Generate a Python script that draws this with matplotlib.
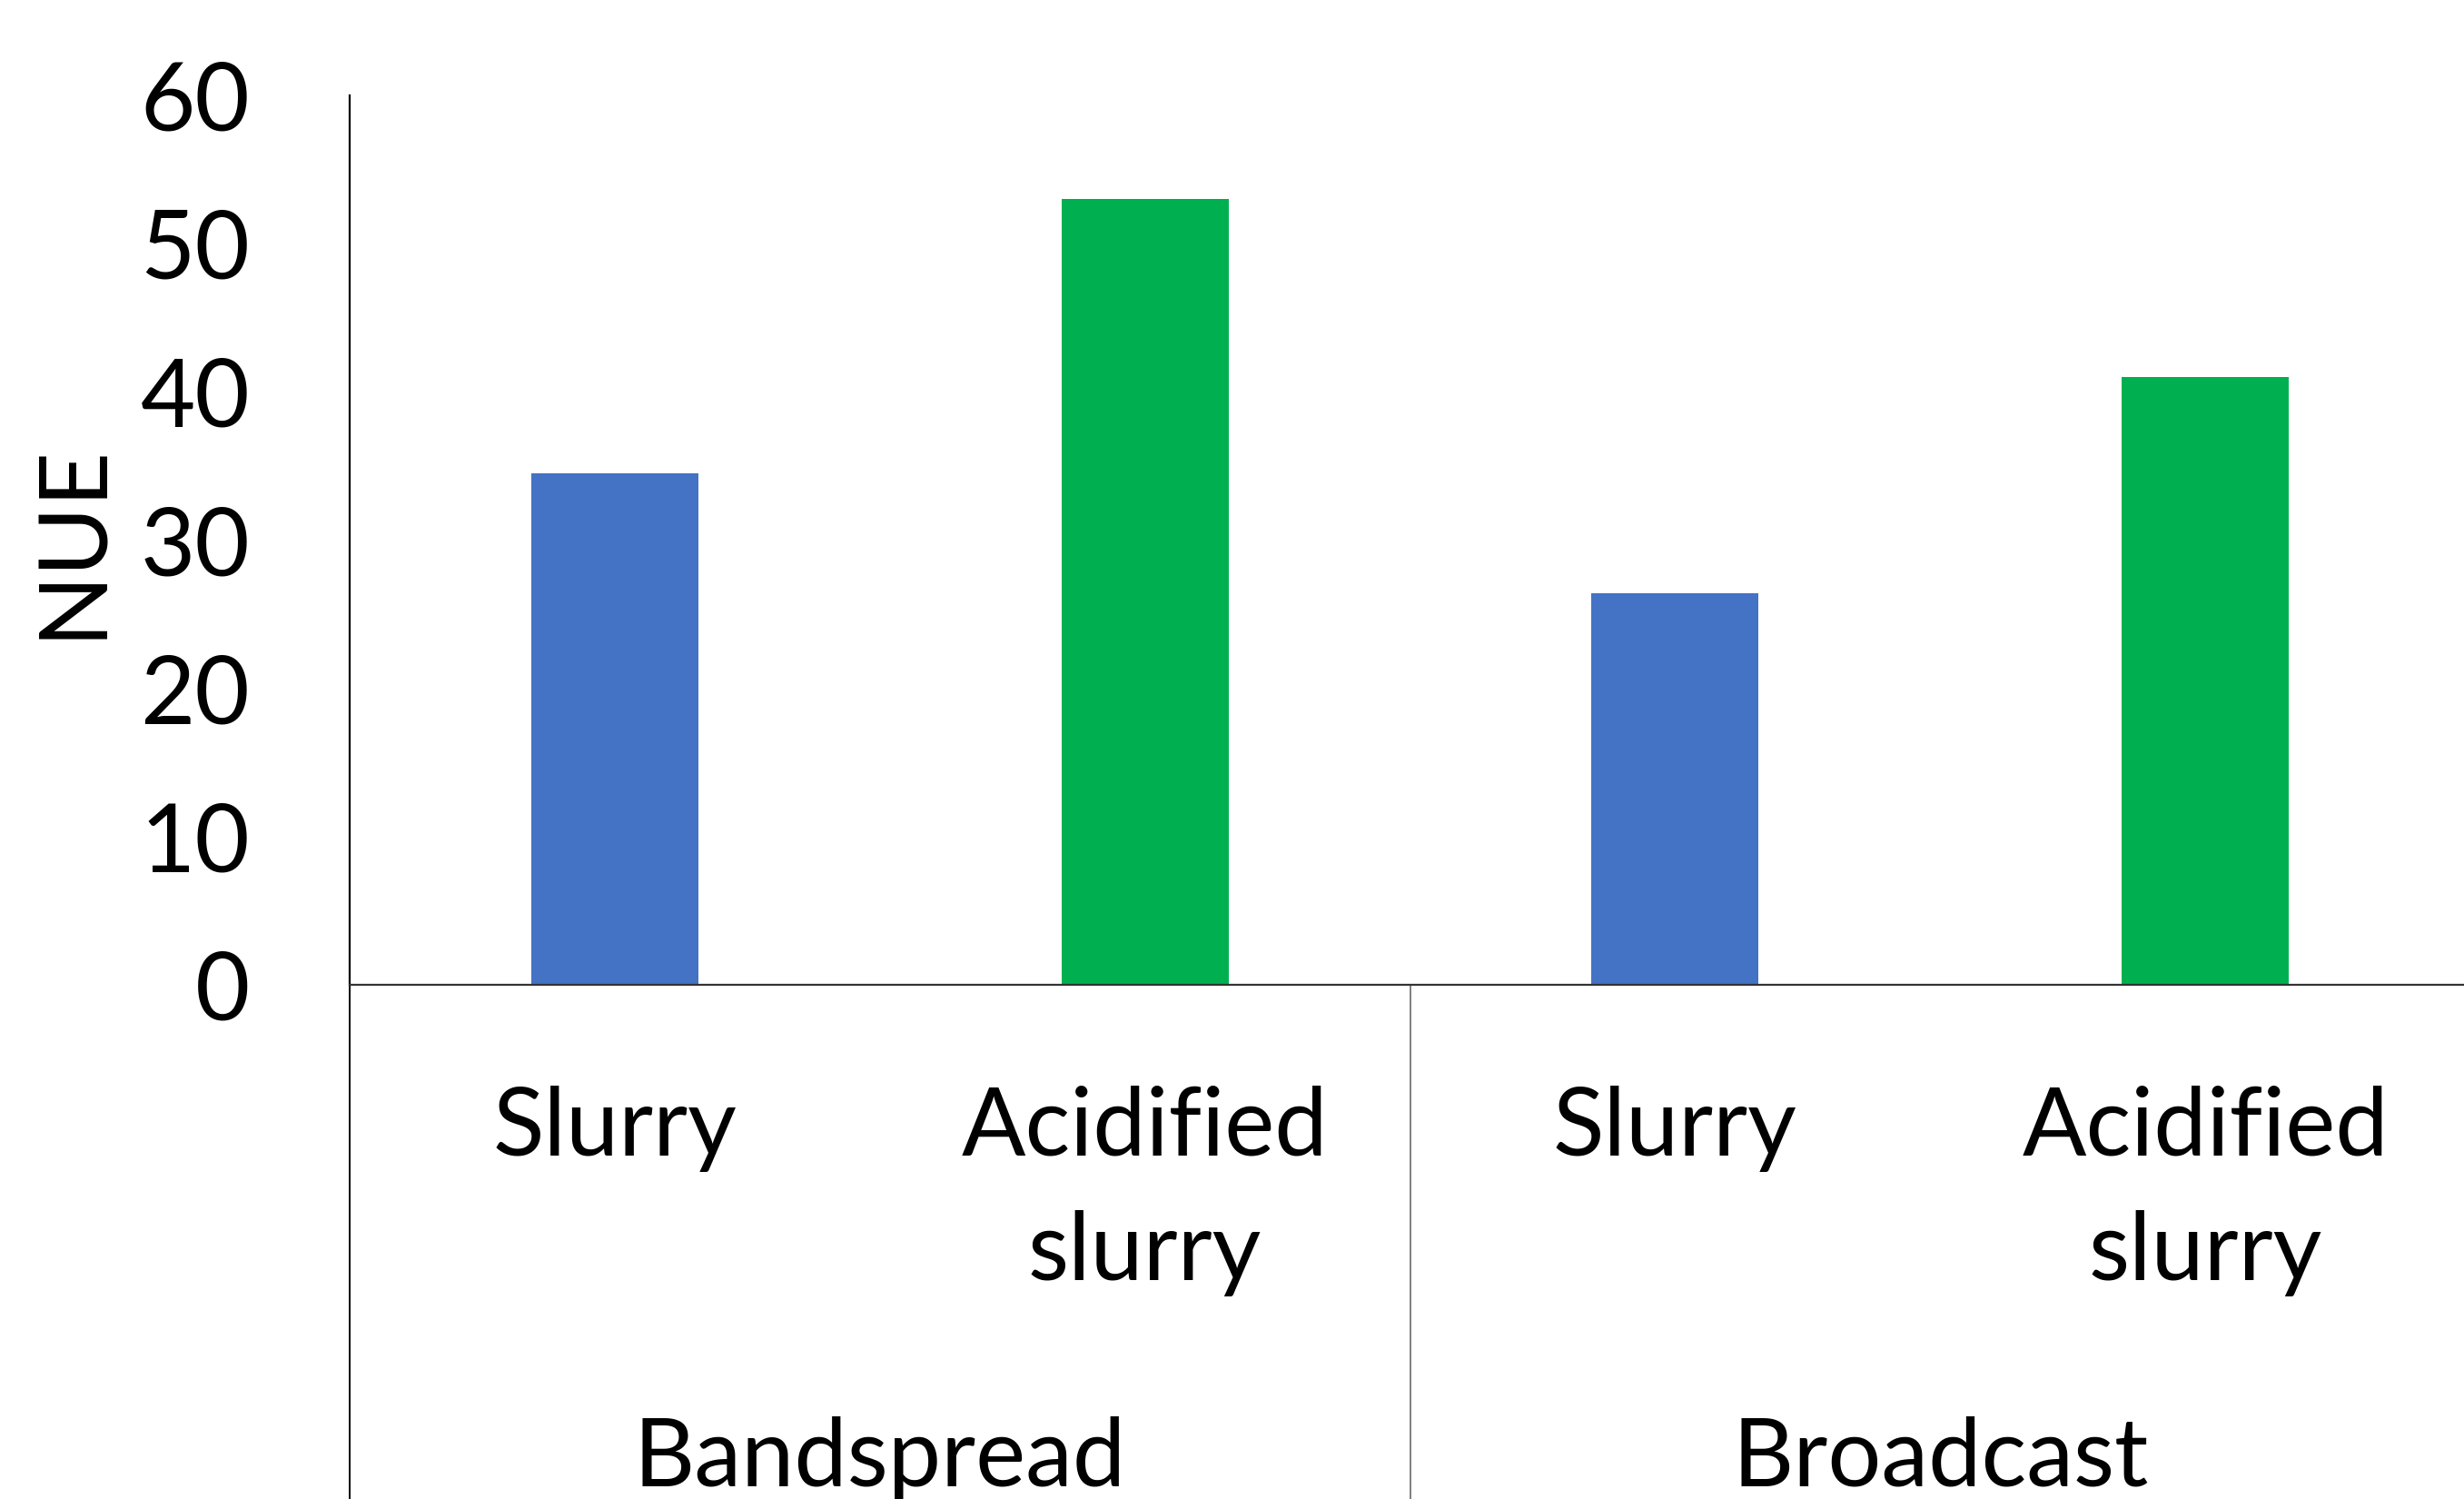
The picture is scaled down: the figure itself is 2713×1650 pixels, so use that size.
import matplotlib
matplotlib.use("Agg")
import matplotlib.pyplot as plt
from matplotlib.lines import Line2D
from matplotlib.transforms import blended_transform_factory

# Data
groups = ["Bandspread", "Broadcast"]
treatments = ["Slurry", "Acidified\nslurry"]
nue_values = [34.5, 53.0, 26.4, 41.0]
bar_colors = ["#4472C4", "#00B050", "#4472C4", "#00B050"]
y_ticks = [0, 10, 20, 30, 40, 50, 60]

W, H = 2713, 1650
DPI = 100
plt.rcParams["font.family"] = ["Lato", "DejaVu Sans"]

fig = plt.figure(figsize=(W / DPI, H / DPI), dpi=DPI)
fig.patch.set_facecolor("white")

x_left, x_right = 385, 2720
y_zero, y_top = 1084, 105
ax = fig.add_axes([x_left / W, 1 - y_zero / H, (x_right - x_left) / W, (y_zero - y_top) / H])

positions = list(range(len(nue_values)))
ax.bar(positions, nue_values, width=0.315, color=bar_colors, zorder=2)

ax.set_xlim(-0.5, len(nue_values) - 0.5)
ax.set_ylim(0, 60)
ax.set_yticks(y_ticks)
ax.set_yticklabels([str(t) for t in y_ticks], fontsize=75)
ax.tick_params(axis="y", length=0, pad=79)
ax.set_xticks([])

for side in ["top", "right"]:
    ax.spines[side].set_visible(False)
ax.spines["left"].set_linewidth(1.6)
ax.spines["left"].set_color("black")
ax.spines["bottom"].set_linewidth(1.6)
ax.spines["bottom"].set_color("#333333")

# Category labels below the axis (data x, figure y)
trans = blended_transform_factory(ax.transData, fig.transFigure)
labels = treatments * len(groups)
for pos, lab in zip(positions, labels):
    ax.text(pos, 1 - 1195 / H, lab, transform=trans, ha="center", va="top",
            fontsize=75, linespacing=1.55, clip_on=False)

# Group labels
for gi, g in enumerate(groups):
    center = gi * 2 + 0.5
    ax.text(center, 1 - 1559 / H, g, transform=trans, ha="center", va="top",
            fontsize=75, clip_on=False)

# Group separator lines
for xs, col in [(-0.5, "black"), (1.5, "#7f7f7f")]:
    ax.add_line(Line2D([xs, xs], [1 - y_zero / H, 0], transform=trans,
                       color=col, linewidth=1.4, clip_on=False))

fig.text(81 / W, 1 - 595 / H, "NUE", rotation=90, ha="center", va="center", fontsize=75)

fig.savefig("out.png", dpi=DPI, facecolor="white")
